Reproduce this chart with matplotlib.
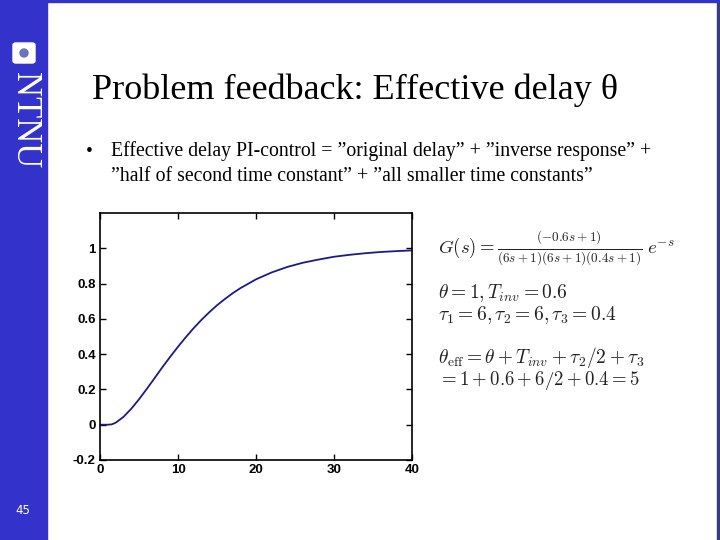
import matplotlib.pyplot as plt
from matplotlib.patches import Rectangle, FancyBboxPatch, Ellipse

plt.rcParams["mathtext.fontset"] = "cm"

# step response
t_vals = [0, 1, 1.5, 2, 3, 4, 5, 6, 7, 8, 9, 10, 11, 12, 13, 14, 15, 16, 17,
          18, 20, 22, 24, 26, 28, 30, 32, 34, 36, 38, 40]
y_vals = [0, 0, 0.002, 0.011, 0.044, 0.09, 0.144, 0.203, 0.264, 0.326, 0.385,
          0.442, 0.496, 0.547, 0.594, 0.637, 0.677, 0.712, 0.745, 0.774, 0.824,
          0.863, 0.894, 0.918, 0.936, 0.952, 0.963, 0.972, 0.979, 0.984, 0.988]

x_ticks = [0, 10, 20, 30, 40]
y_ticks = [-0.2, 0, 0.2, 0.4, 0.6, 0.8, 1]
y_tick_labels = ["-0.2", "0", "0.2", "0.4", "0.6", "0.8", "1"]

W, H = 720, 540


def px(x, y):
    return x / W, 1 - y / H


fig = plt.figure(figsize=(7.2, 5.4), dpi=100)
fig.patch.set_facecolor("white")

# -----------------------------
# slide decoration
# -----------------------------
fig.add_artist(Rectangle(px(0, 540), 47 / W, 1, transform=fig.transFigure,
                         color="#3333cc", zorder=0))
fig.add_artist(Rectangle(px(717, 540), 3 / W, 1, transform=fig.transFigure,
                         color="#3a3a80", zorder=0))
fig.add_artist(Rectangle(px(0, 2), 1, 2 / H, transform=fig.transFigure,
                         color="#3333cc", zorder=0))

# NTNU logo
fig.add_artist(FancyBboxPatch(px(13, 63), 22 / W, 20 / H, transform=fig.transFigure,
                              boxstyle="round,pad=0,rounding_size=0.004",
                              color="white", zorder=1))
fig.add_artist(Ellipse(px(24, 53), 8 / W, 8 / H, transform=fig.transFigure,
                       color="#6a74b8", zorder=2))
fig.text(*px(24, 120), "NTNU", rotation=-90, color="white", fontsize=25,
         family="Liberation Serif", ha="center", va="center")
fig.text(*px(23, 510), "45", color="white", fontsize=8.5,
         family="DejaVu Sans", ha="center", va="center")

# title and bullet
fig.text(*px(92, 90), "Problem feedback: Effective delay θ", fontsize=26,
         family="Liberation Serif", va="center")
fig.text(*px(86, 151), "•", fontsize=14, family="Liberation Serif", va="center")
fig.text(*px(111, 151),
         "Effective delay PI-control = \u201doriginal delay\u201d + \u201dinverse response\u201d +",
         fontsize=14.2, family="Liberation Serif", va="center")
fig.text(*px(111, 177),
         "\u201dhalf of second time constant\u201d + \u201dall smaller time constants\u201d",
         fontsize=14.2, family="Liberation Serif", va="center")

# -----------------------------
# plot
# -----------------------------
ax = fig.add_axes([100 / W, 1 - 460 / H, 312 / W, 247 / H])
ax.plot(t_vals, y_vals, color="#1a1a8c", lw=1.3)
ax.set_xlim(0, 40)
ax.set_ylim(-0.2, 1.2)
ax.set_xticks(x_ticks)
ax.set_xticklabels([str(v) for v in x_ticks])
ax.set_yticks(y_ticks)
ax.set_yticklabels(y_tick_labels)
ax.tick_params(direction="in", top=True, right=True, length=4, width=1,
               labelsize=9.5, pad=3)
for lab in ax.get_xticklabels() + ax.get_yticklabels():
    lab.set_fontweight("bold")
    lab.set_family("Liberation Sans")
for sp in ax.spines.values():
    sp.set_linewidth(1.2)

# -----------------------------
# equations
# -----------------------------
eq_color = "#222222"
fig.text(*px(438, 248),
         r"$G(s) = \frac{(-0.6s+1)}{(6s+1)(6s+1)(0.4s+1)}\;e^{-s}$",
         fontsize=13.5, color=eq_color, va="center")
fig.text(*px(438, 293), r"$\theta = 1, T_{inv} = 0.6$",
         fontsize=14, color=eq_color, va="center")
fig.text(*px(438, 315), r"$\tau_1 = 6, \tau_2 = 6, \tau_3 = 0.4$",
         fontsize=14, color=eq_color, va="center")
fig.text(*px(438, 357), r"$\theta_{\rm eff} = \theta + T_{inv} + \tau_2/2 + \tau_3$",
         fontsize=14, color=eq_color, va="center")
fig.text(*px(438, 381), r"$= 1 + 0.6 + 6/2 + 0.4 = 5$",
         fontsize=13.5, color=eq_color, va="center")

fig.savefig("out.png", dpi=100)
